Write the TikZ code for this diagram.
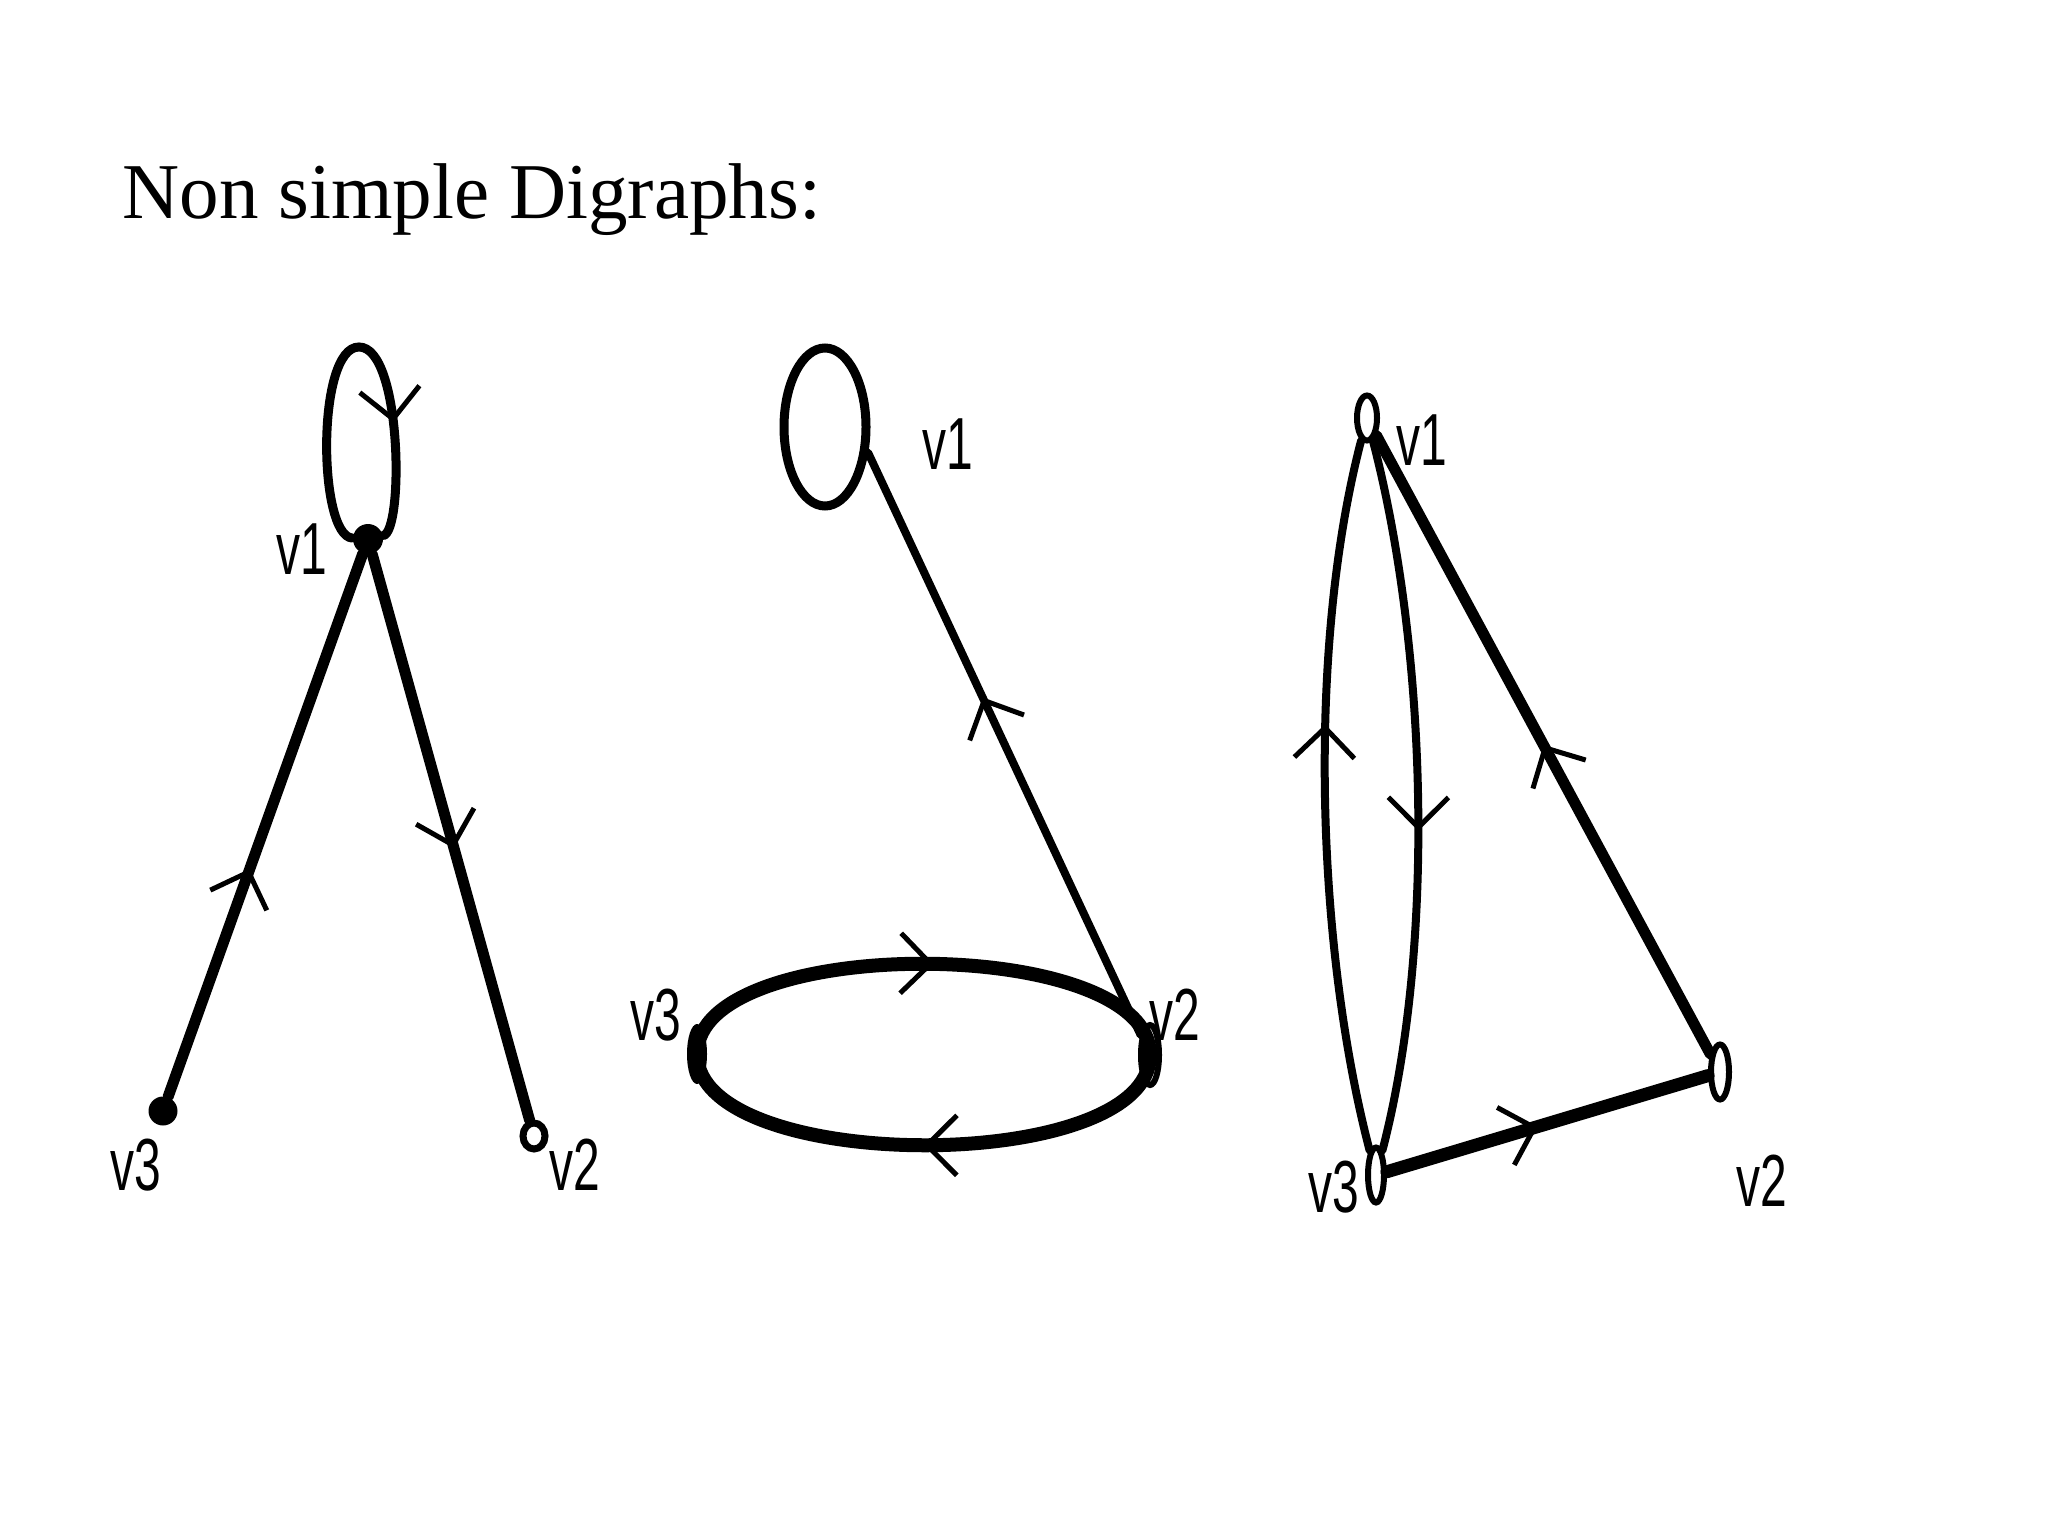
\documentclass[tikz,border=0pt]{standalone}
\usepackage{graphicx}
\usepackage{fontspec}
\setmainfont{Liberation Serif}
\newfontfamily\labelfont{Liberation Sans}
\usetikzlibrary{arrows.meta,decorations.markings,shapes.geometric}

\newcommand{\vlab}[1]{\scalebox{0.65}[1]{#1}}

\tikzset{
  vdot/.style={ellipse, fill=black, inner sep=0pt},
  vring/.style={ellipse, draw, fill=white, line width=0.6mm, inner sep=0pt},
  vlabel/.style={font=\labelfont\fontsize{21}{21}\selectfont, inner sep=0pt},
  conn/.style={draw, line width=#1},
  midarrow/.style={postaction={decorate},
    decoration={markings, mark=at position #1 with {\arrow{>}}}},
}

\begin{document}
\begin{tikzpicture}[x=0.1mm, y=0.1mm, line cap=round,
  >={Straight Barb[length=3mm,width=6mm,line width=0.5mm]}]
\useasboundingbox (0,0) rectangle (2048,1536);

\node [anchor=base west, inner sep=0pt, font=\fontsize{22.5}{22.5}\selectfont] (title) at (122,1317) {Non simple Digraphs:};

\node [vdot, minimum size=3mm] (g1-v1) at (368,997) {};
\node [vdot, minimum size=2.9mm] (g1-v3) at (163,425) {};
\node [vring, line width=0.7mm, minimum width=2.2mm, minimum height=2.6mm] (g1-v2) at (534,400) {};

\node [ellipse, draw, line width=0.9mm, inner sep=0pt, minimum width=8.2mm, minimum height=15.8mm] (g2-v1) at (825,1109) {};
\node [vdot, minimum width=2mm, minimum height=6mm] (g2-v3) at (697,482) {};
\node [vring, minimum width=1.8mm, minimum height=6mm] (g2-v2) at (1150,481) {};

\node [vring, minimum width=2mm, minimum height=4.5mm] (g3-v1) at (1367,1118) {};
\node [vring, minimum width=1.6mm, minimum height=5.5mm] (g3-v3) at (1376,361) {};
\node [vring, minimum width=1.8mm, minimum height=5.5mm] (g3-v2) at (1720,464) {};

\foreach \n/\t/\x/\y in {g1-l1/v1/302/987, g1-l3/v3/136/371, g1-l2/v2/575/371,
                         g2-l1/v1/948/1092, g2-l3/v3/656/521, g2-l2/v2/1175/521,
                         g3-l1/v1/1422/1096, g3-l3/v3/1334/349, g3-l2/v2/1762/355}
  \node [vlabel] (\n) at (\x,\y) {\vlab{\t}};

\draw [conn=1.1mm, midarrow=0.42] (g1-v3) -- (g1-v1);
\draw [conn=1.1mm, midarrow=0.52] (g1-v1) -- (g1-v2);
\draw [conn=0.9mm, midarrow=0.72] (g1-v1) .. controls (318,1000) and (316,1189) .. (359,1189)
  .. controls (402,1189) and (404,1005) .. (g1-v1);

\draw [conn=0.8mm, midarrow=0.58] (g2-v2) -- (g2-v1.-31);
\draw [conn=1.4mm, midarrow=0.52] (g2-v3.center) .. controls +(0,121) and +(0,121) .. (g2-v2.center);
\draw [conn=1.4mm, midarrow=0.5] (g2-v2.center) .. controls +(0,-121) and +(0,-121) .. (g2-v3.center);

\draw [conn=0.8mm, midarrow=0.6] (g3-v3) .. controls +(-60,230) and +(-60,-230) .. (g3-v1);
\draw [conn=0.8mm, midarrow=0.55] (g3-v1) .. controls +(60,-230) and +(60,230) .. (g3-v3);
\draw [conn=1.1mm, midarrow=0.5] (g3-v2) -- (g3-v1);
\draw [conn=1.3mm, midarrow=0.47] (g3-v3) -- (g3-v2);
\end{tikzpicture}
\end{document}
